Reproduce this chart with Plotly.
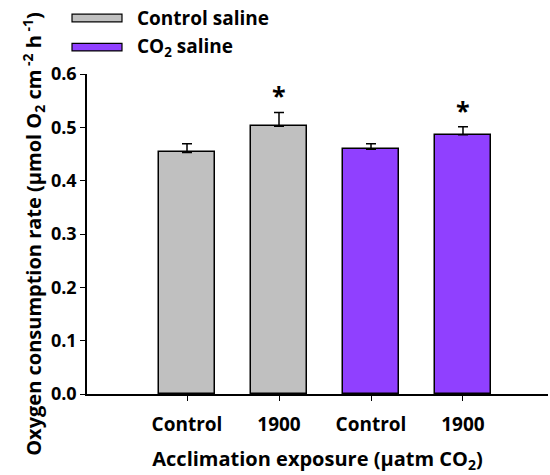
import plotly.graph_objects as go

categories = ["Control", "1900", "Control", "1900"]
series_names = ["Control saline", "CO<sub>2</sub> saline"]
control_means = [0.453, 0.502]
control_errs = [0.016, 0.026]
co2_means = [0.459, 0.486]
co2_errs = [0.010, 0.015]
significant = [False, True, False, True]
yticks = [0.0, 0.1, 0.2, 0.3, 0.4, 0.5, 0.6]

grey = "#C0C0C0"
purple = "#9040FF"
font_family = "'Open Sans', sans-serif"

fig = go.Figure()
pos = list(range(len(categories)))
for name, xs, means, errs, col in [
    (series_names[0], pos[:2], control_means, control_errs, grey),
    (series_names[1], pos[2:], co2_means, co2_errs, purple),
]:
    fig.add_trace(go.Bar(
        x=xs, y=means, name=name, width=0.61,
        marker=dict(color=col, line=dict(color="black", width=1.5)),
        error_y=dict(type="data", symmetric=False, array=errs,
                     arrayminus=[0] * len(errs), color="black",
                     thickness=1.5, width=5),
        showlegend=False,
    ))

all_means = control_means + co2_means
all_errs = control_errs + co2_errs
for i, sig in enumerate(significant):
    if sig:
        fig.add_annotation(x=pos[i], y=all_means[i] + all_errs[i], text="<b>*</b>",
                           showarrow=False, yanchor="bottom", yshift=-2,
                           font=dict(size=25, color="black", family=font_family))

# legend
for name, col, py in [(series_names[0], grey, 1.175), (series_names[1], purple, 1.084)]:
    fig.add_shape(type="rect", xref="paper", yref="paper",
                  x0=-0.0325, x1=0.0759, y0=py - 0.012, y1=py + 0.012,
                  fillcolor=col, line=dict(color="black", width=1.2))
    fig.add_annotation(xref="paper", yref="paper", x=0.105, y=py, text="<b>%s</b>" % name,
                       showarrow=False, xanchor="left", yanchor="middle",
                       font=dict(size=19, color="black", family=font_family))

fig.update_layout(
    width=550, height=475,
    margin=dict(l=87, r=2, t=74, b=81),
    plot_bgcolor="white", paper_bgcolor="white",
    font=dict(family=font_family, color="black"),
    bargap=0,
    xaxis=dict(range=[-1.087, 3.924], tickvals=pos,
               ticktext=["<b>%s</b>" % c for c in categories],
               ticks="outside", ticklen=5, tickwidth=1.2, tickcolor="black",
               showline=True, linecolor="black", linewidth=1.5,
               showgrid=False, zeroline=False, automargin=False,
               ticklabelstandoff=7,
               tickfont=dict(size=19, family=font_family),
               title=dict(text="<b>Acclimation exposure (μatm CO<sub>2</sub>)</b>",
                          font=dict(size=20, family=font_family), standoff=16)),
    yaxis=dict(range=[0, 0.6], tickvals=yticks,
               ticktext=["<b>%.1f</b>" % v for v in yticks],
               ticks="outside", ticklen=5, tickwidth=1.2, tickcolor="black",
               showline=True, linecolor="black", linewidth=1.5,
               showgrid=False, zeroline=False, automargin=False,
               tickfont=dict(size=18, family=font_family),
               title=dict(text="<b>Oxygen consumption rate (μmol O<sub>2</sub> cm<sup> -2</sup> h<sup> -1</sup>)</b>",
                          font=dict(size=20, family=font_family), standoff=4)),
)

fig.write_html("out.html", config={"displayModeBar": False},
               post_script="document.body.style.margin='0';")
